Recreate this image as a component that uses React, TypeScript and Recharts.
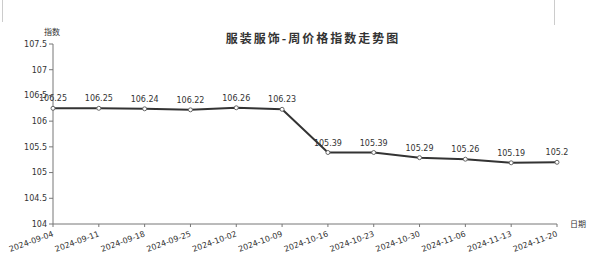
import { LineChart, Line, XAxis, YAxis, LabelList } from 'recharts'

// weekly apparel price index
const weeks = [
  '2024-09-04', '2024-09-11', '2024-09-18', '2024-09-25', '2024-10-02', '2024-10-09',
  '2024-10-16', '2024-10-23', '2024-10-30', '2024-11-06', '2024-11-13', '2024-11-20',
]
const indexValues = [106.25, 106.25, 106.24, 106.22, 106.26, 106.23, 105.39, 105.39, 105.29, 105.26, 105.19, 105.2]
const yTicks = [104, 104.5, 105, 105.5, 106, 106.5, 107, 107.5]

const data = weeks.map((w, i) => ({ week: w, value: indexValues[i] }))

const FONT = '"DejaVu Sans", sans-serif'
const CJK = '"Noto Sans CJK SC", sans-serif'

function DateTick(props: any) {
  const { x, y, payload } = props
  return (
    <g transform={`translate(${x + 1},${y + 7})`}>
      <text x={0} y={0} textAnchor="end" transform="rotate(-20)" fontSize={8} fill="#333" fontFamily={FONT}>
        {payload.value}
      </text>
    </g>
  )
}

export default function App() {
  return (
    <div style={{ position: 'absolute', left: 0, top: 0, width: 596, height: 254, background: '#fff' }}>
      <div style={{ position: 'absolute', left: 2, top: 0, width: 1, height: 22, background: '#ccc' }} />
      <div style={{ position: 'absolute', left: 554, top: 0, width: 1, height: 25, background: '#ccc' }} />
      <div
        style={{
          position: 'absolute', left: 0, width: 626, top: 30, textAlign: 'center',
          fontFamily: CJK, fontWeight: 'bold', fontSize: 12, letterSpacing: 2, color: '#333', lineHeight: '16px',
        }}
      >
        服装服饰-周价格指数走势图
      </div>
      <div style={{ position: 'absolute', left: 44, top: 27, fontFamily: CJK, fontSize: 8, color: '#333', lineHeight: '10px' }}>
        指数
      </div>
      <div style={{ position: 'absolute', left: 570, top: 219, fontFamily: CJK, fontSize: 8, color: '#333', lineHeight: '10px' }}>
        日期
      </div>
      <LineChart width={596} height={254} data={data} margin={{ top: 44, right: 39, bottom: 0, left: 0 }}>
        <XAxis
          dataKey="week"
          height={30}
          interval={0}
          tick={<DateTick />}
          tickSize={3}
          axisLine={{ stroke: '#777' }}
          tickLine={{ stroke: '#777' }}
        />
        <YAxis
          domain={[104, 107.5]}
          ticks={yTicks}
          width={53}
          tickSize={4}
          tick={{ fontSize: 8, fill: '#333', fontFamily: FONT }}
          axisLine={{ stroke: '#777' }}
          tickLine={{ stroke: '#777' }}
        />
        <Line
          type="linear"
          dataKey="value"
          stroke="#333"
          strokeWidth={2}
          dot={{ r: 2, fill: '#fff', stroke: '#666', strokeWidth: 1 }}
          isAnimationActive={false}
        >
          <LabelList dataKey="value" position="top" offset={7} fontSize={8} fill="#333" fontFamily={FONT} />
        </Line>
      </LineChart>
    </div>
  )
}
